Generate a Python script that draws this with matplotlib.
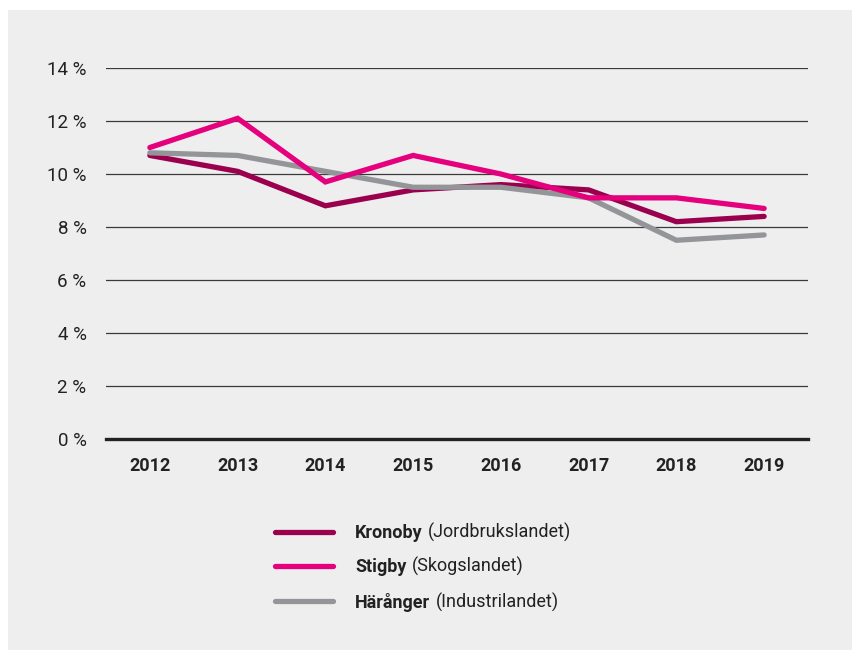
import matplotlib
matplotlib.use("Agg")
import matplotlib.pyplot as plt

plt.rcParams['font.family'] = ['Roboto', 'DejaVu Sans']

years = [2012, 2013, 2014, 2015, 2016, 2017, 2018, 2019]
kronoby = [10.7, 10.1, 8.8, 9.4, 9.6, 9.4, 8.2, 8.4]
stigby = [11.0, 12.1, 9.7, 10.7, 10.0, 9.1, 9.1, 8.7]
haranger = [10.8, 10.7, 10.1, 9.5, 9.5, 9.1, 7.5, 7.7]

names = ['Kronoby', 'Stigby', 'Härånger']
subtitles = ['(Jordbrukslandet)', '(Skogslandet)', '(Industrilandet)']
colors = ['#9b004f', '#e5007d', '#939598']

yticks = [0, 2, 4, 6, 8, 10, 12, 14]
ytick_labels = [f"{v} %" for v in yticks]

fig = plt.figure(figsize=(8.53, 6.5), dpi=100)
fig.patch.set_facecolor('white')
# grey panel behind everything
fig.patches.append(plt.Rectangle((8 / 853, 0), 1, 1 - 10 / 650, transform=fig.transFigure,
                                 facecolor='#eeeeee', edgecolor='none', zorder=-10))

ax = fig.add_axes([106 / 853, 1 - 439 / 650, (808 - 106) / 853, (439 - 68) / 650])
ax.set_facecolor('none')

handles = []
for vals, c, n in zip([kronoby, stigby, haranger], colors, names):
    h, = ax.plot(years, vals, color=c, lw=3.8, solid_capstyle='round', solid_joinstyle='miter',
                 clip_on=False, zorder=3, label=n)
    handles.append(h)
# pink sits on top in the original
handles[1].set_zorder(4)

ax.set_xlim(2011.5, 2019.5)
ax.set_ylim(0, 14)
ax.set_xticks(years)
ax.set_xticklabels([str(y) for y in years], fontweight='bold', fontsize=13, color='#222222')
ax.set_yticks(yticks)
ax.set_yticklabels(ytick_labels, fontsize=13.5, color='#222222')
ax.tick_params(axis='both', length=0)
ax.tick_params(axis='y', pad=14)
ax.tick_params(axis='x', pad=13)

for v in yticks[1:]:
    ax.axhline(v, color='#3a3a3a', lw=0.9, zorder=1)
ax.axhline(0, color='#222222', lw=2.4, zorder=2, clip_on=False)

for s in ax.spines.values():
    s.set_visible(False)

leg = ax.legend(handles=handles, labels=names, loc='upper left',
                bbox_to_anchor=(275 / 853, 1 - 524 / 650), bbox_transform=fig.transFigure,
                frameon=False, borderpad=0, borderaxespad=0, handlelength=3.2,
                handletextpad=1.25, labelspacing=0.9,
                prop={'weight': 'bold', 'size': 13})
for t in leg.get_texts():
    t.set_color('#222222')

# regular-weight part of each legend label, placed right after the bold name
fig.canvas.draw()
renderer = fig.canvas.get_renderer()
for t, sub in zip(leg.get_texts(), subtitles):
    bb = t.get_window_extent(renderer)
    x0, y0 = fig.transFigure.inverted().transform((bb.x1 + 5, bb.y0))
    fig.text(x0, y0, sub, fontsize=13, color='#222222', va='bottom')

fig.savefig('out.png', dpi=100)
